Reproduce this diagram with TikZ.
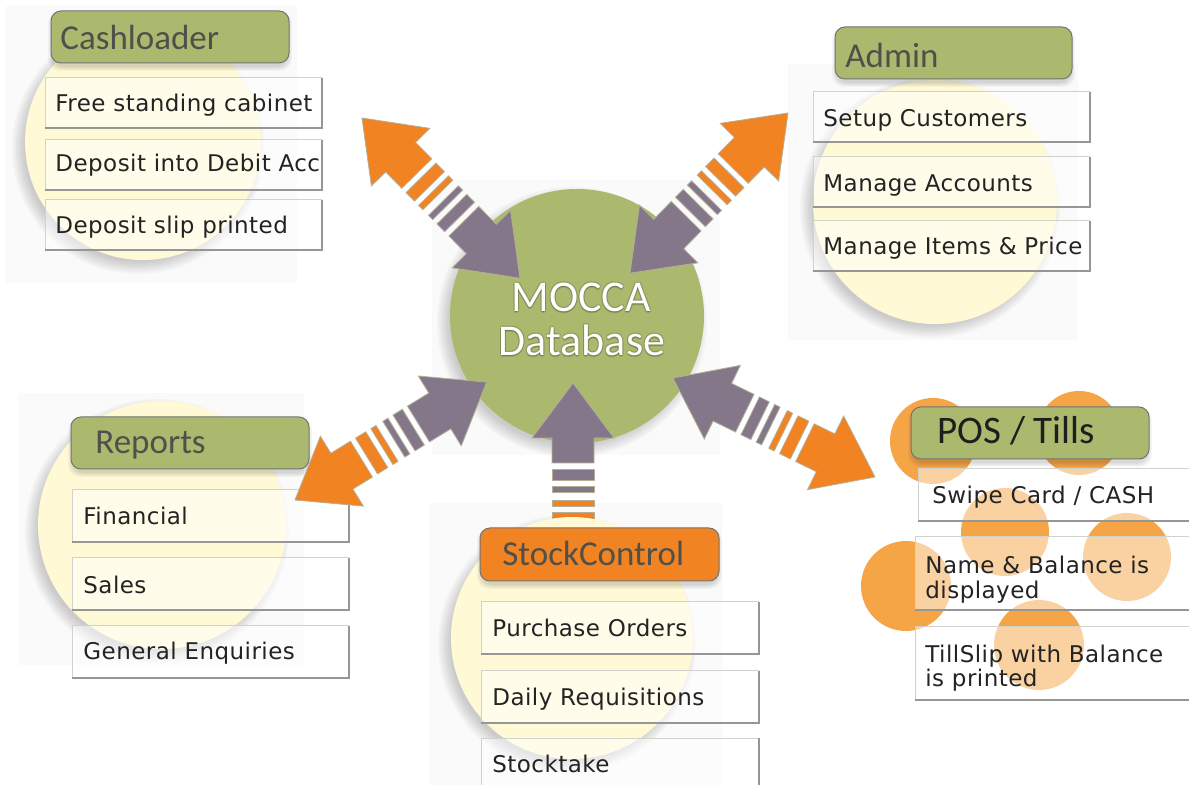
\documentclass[tikz,border=0pt]{standalone}
\usepackage{fontspec}
\newfontfamily\hdrfont{Carlito}
\newfontfamily\itmfont[LetterSpace=2]{DejaVu Sans}
\usetikzlibrary{calc}
\definecolor{cgreen}{RGB}{171,185,111}
\definecolor{corange}{RGB}{242,131,34}
\definecolor{cpurple}{RGB}{133,119,138}
\definecolor{cyellow}{RGB}{255,249,214}
\definecolor{cpos}{RGB}{246,165,70}
\definecolor{cbg}{RGB}{250,250,250}
\definecolor{chdtext}{RGB}{80,80,75}
\definecolor{cpostext}{RGB}{30,30,30}
\definecolor{citem}{RGB}{35,35,35}
\definecolor{cedge}{RGB}{210,210,205}
\definecolor{cshade}{RGB}{150,150,150}
\definecolor{coutline}{RGB}{180,175,150}
\tikzset{
  hdrtext/.style={font=\hdrfont\fontsize{17.5}{20}\selectfont, text=chdtext, inner sep=0pt, anchor=base west},
  itemtext/.style={font=\itmfont\fontsize{11.5}{13}\selectfont, text=citem, inner sep=0pt, anchor=base west},
  dbtext/.style={font=\hdrfont\fontsize{22}{26}\selectfont, inner sep=0pt, anchor=base},
  arrowpart/.style={draw=coutline, line width=0.4pt},
  panel/.style={fill=cbg},
}
\newcommand\circshadow[3]{%
  \foreach \k in {1,...,7}{\fill[black, opacity=0.028] (#1-5,#2+6) circle[radius={#3-6+2*\k}];}}
\newcommand\hdrbox[9]{%
  \foreach \k in {1,...,5}{\fill[black, opacity=0.03, rounded corners=6pt] (#2-\k+2,#3-\k+5) rectangle (#4+\k-2,#5+\k+3);}
  \filldraw[fill=#9, draw=black!55, line width=0.5pt, rounded corners=5pt] (#2,#3) rectangle (#4,#5);
  \node[hdrtext] (#1) at (#6,#7) {#8};}
\newcommand\itembox[8]{%
  \fill[white, opacity=0.5] (#2,#3) rectangle (#4,#5);
  \draw[cedge, line width=0.5pt] (#4,#3) -- (#2,#3) -- (#2,#5);
  \draw[cshade, line width=0.8pt] (#4,#3) -- (#4,#5) -- (#2,#5);
  \begin{scope}
    \clip (#2,#3) rectangle (#4,#5);
    \node[itemtext] (#1) at (#6,#7) {#8};
  \end{scope}}
\newcommand\bigarrow[2]{%
  \begin{scope}[shift={(#1)}, rotate=#2]
    \filldraw[arrowpart, fill=corange] (0,0) -- (55,-41) -- (55,-21) -- (78,-21) -- (78,21) -- (55,21) -- (55,41) -- cycle;
    \filldraw[arrowpart, fill=corange] (84,-21) rectangle (96,21);
    \filldraw[arrowpart, fill=corange] (102,-21) rectangle (108,21);
    \filldraw[arrowpart, fill=cpurple] (116,-21) rectangle (122,21);
    \filldraw[arrowpart, fill=cpurple] (128,-21) rectangle (139,21);
    \filldraw[arrowpart, fill=cpurple] (145,-21) -- (170,-21) -- (170,-41) -- (225,0) -- (170,41) -- (170,21) -- (145,21) -- cycle;
  \end{scope}}
\begin{document}
\begin{tikzpicture}[x=0.5pt, y=-0.5pt]
\useasboundingbox (0,0) rectangle (1189,785);
\clip (0,0) rectangle (1189,785);
\fill[white] (0,0) rectangle (1189,785);

% faint panels
\fill[panel] (6,6) rectangle (297,283);
\fill[panel] (788,64) rectangle (1078,340);
\fill[panel] (18,393) rectangle (304,665);
\fill[panel] (430,503) rectangle (722,785);
\fill[panel] (432,180) rectangle (720,455);

% centre circle
\circshadow{577}{316}{127}
\fill[cgreen] (577,316) circle[radius=127];

% Cashloader
\circshadow{143}{142}{118}
\fill[cyellow] (143,142) circle[radius=118];
\hdrbox{hcash}{51}{11}{289}{63}{60}{50}{Cashloader}{cgreen}
\itembox{cash1}{45}{78}{322}{128}{55}{112}{Free standing cabinet}
\itembox{cash2}{45}{140}{322}{190}{55}{172}{Deposit into Debit Acc}
\itembox{cash3}{45}{200}{322}{250}{55}{234}{Deposit slip printed}

% Admin
\circshadow{935}{202}{122}
\fill[cyellow] (935,202) circle[radius=122];
\hdrbox{hadmin}{835}{27}{1072}{79}{845}{68}{Admin}{cgreen}
\itembox{adm1}{813}{92}{1090}{142}{823}{127}{Setup Customers}
\itembox{adm2}{813}{157}{1090}{207}{823}{192}{Manage Accounts}
\itembox{adm3}{813}{221}{1090}{271}{823}{255}{Manage Items \& Price}

% Reports
\circshadow{162}{525}{124}
\fill[cyellow] (162,525) circle[radius=124];
\hdrbox{hrep}{71}{417}{309}{469}{95}{454}{Reports}{cgreen}
\itembox{rep1}{72}{490}{349}{542}{83}{525}{Financial}
\itembox{rep2}{72}{558}{349}{610}{83}{594}{Sales}
\itembox{rep3}{72}{626}{349}{678}{83}{660}{General Enquiries}

% arrows
\coordinate (a1) at (362,118);
\coordinate (a2) at (788,113);
\coordinate (a3) at (295,500);
\coordinate (a5) at (875,477);
\coordinate (a4) at (573,608);
\bigarrow{a1}{-45.4}
\bigarrow{a2}{-134.6}
\bigarrow{a3}{31.6}
\bigarrow{a5}{153.9}
\bigarrow{a4}{90}

% centre text
\foreach \dx/\dy in {1/1,-1/1,1/-1,-1/-1,0/2}{
  \node[dbtext, text=black, opacity=0.12] at (581+\dx,312+\dy) {MOCCA};
  \node[dbtext, text=black, opacity=0.12] at (582+\dx,356+\dy) {Database};}
\node[dbtext, text=white] (db1) at (581,312) {MOCCA};
\node[dbtext, text=white] (db2) at (582,356) {Database};

% StockControl
\circshadow{572}{638}{121}
\fill[cyellow] (572,638) circle[radius=121];
\hdrbox{hstock}{480}{528}{719}{581}{502}{566}{StockControl}{corange}
\itembox{st1}{481}{602}{759}{654}{492}{637}{Purchase Orders}
\itembox{st2}{481}{671}{759}{723}{492}{705}{Daily Requisitions}
\itembox{st3}{481}{738}{759}{800}{492}{772}{Stocktake}

% POS / Tills
\foreach \cx/\cy/\r in {933/441/43, 1079/433/42, 1005/532/44, 1127/557/44, 906/586/45, 1039/645/45}{
  \fill[cpos] (\cx,\cy) circle[radius=\r];}
\hdrbox{hpos}{911}{407}{1149}{459}{937}{444}{\fontsize{19.5}{22}\selectfont\color{cpostext}POS / Tills}{cgreen}
\itembox{pos1}{918}{469}{1195}{521}{932}{504}{Swipe Card / CASH}
\itembox{pos2}{915}{537}{1195}{610}{925}{574}{Name \& Balance is}
\node[itemtext] (pos2b) at (925,599) {displayed};
\itembox{pos3}{915}{627}{1195}{700}{925}{662}{TillSlip with Balance}
\node[itemtext] (pos3b) at (925,687) {is printed};
\end{tikzpicture}
\end{document}
